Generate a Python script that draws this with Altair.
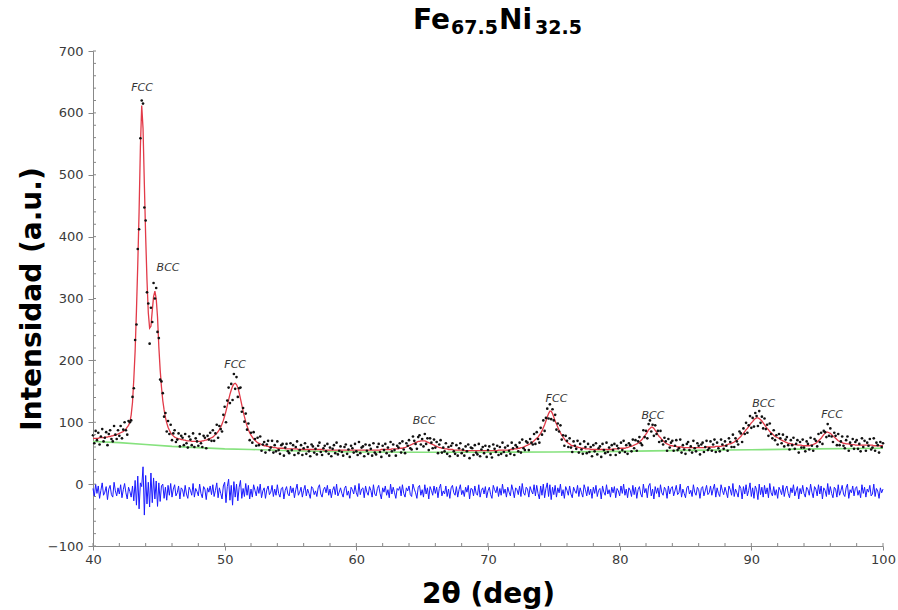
import numpy as np
import pandas as pd
import altair as alt

# ---- scan grid (2theta, deg) ----
X_START = 40.0
X_STEP = 0.1

# ---- calculated (fitted) profile, red line, one value per 0.1 deg ----
CALC = [
    74, 74, 74, 74, 74, 75, 75, 75, 75, 76,            # 40
    76, 76, 77, 77, 78, 78, 79, 79, 80, 81,            # 41
    82, 83, 84, 85, 87, 89, 92, 95, 100, 112,          # 42
    132, 170, 215, 280, 355, 440, 545, 612, 575, 485,  # 43
    400, 330, 277, 252, 255, 280, 303, 312, 300, 270,  # 44
    222, 185, 157, 135, 120, 108, 99, 92, 87, 83,      # 45
    80, 78, 76, 75, 74, 73, 73, 72, 72, 71,            # 46
    71, 70, 70, 70, 70, 69, 69, 69, 69, 69,            # 47
    69, 69, 69, 70, 70, 71, 71, 72, 73, 74,            # 48
    75, 76, 78, 80, 82, 85, 88, 92, 97, 103,           # 49
    110, 118, 127, 136, 145, 152, 158, 162, 163, 161,  # 50
    156, 148, 138, 128, 118, 109, 101, 94, 88, 83,     # 51
    79, 76, 73, 71, 69, 67, 66, 65, 64, 63,            # 52
    62, 62, 61, 61, 60, 60, 60, 59, 59, 59,            # 53
    58, 58, 58, 58, 58, 58, 57, 57, 57, 57,            # 54
    57, 57, 57, 57, 57, 57, 56, 56, 56, 56,            # 55
    56, 56, 56, 56, 56, 56, 56, 56, 56, 56,            # 56
    56, 56, 56, 56, 56, 55, 55, 55, 55, 55,            # 57
    55, 55, 55, 55, 55, 55, 55, 55, 55, 55,            # 58
    55, 55, 55, 55, 55, 55, 55, 55, 55, 55,            # 59
    55, 55, 55, 55, 55, 55, 55, 55, 55, 55,            # 60
    55, 55, 55, 55, 55, 55, 55, 55, 55, 56,            # 61
    56, 56, 56, 56, 56, 56, 56, 57, 57, 57,            # 62
    57, 57, 57, 58, 58, 58, 59, 59, 60, 61,            # 63
    62, 63, 64, 65, 66, 67, 68, 69, 69, 70,            # 64
    70, 70, 70, 69, 68, 67, 66, 65, 64, 63,            # 65
    62, 61, 60, 59, 59, 58, 58, 57, 57, 57,            # 66
    56, 56, 56, 56, 55, 55, 55, 55, 55, 55,            # 67
    55, 54, 54, 54, 54, 54, 54, 54, 54, 54,            # 68
    54, 54, 54, 54, 54, 54, 54, 54, 54, 54,            # 69
    54, 54, 54, 54, 54, 54, 54, 54, 55, 55,            # 70
    55, 55, 55, 55, 55, 55, 55, 56, 56, 56,            # 71
    57, 57, 57, 58, 58, 59, 59, 60, 61, 62,            # 72
    63, 64, 65, 66, 68, 70, 72, 74, 76, 79,            # 73
    82, 86, 91, 96, 102, 108, 114, 118, 118, 114,      # 74
    108, 102, 97, 92, 87, 83, 79, 76, 73, 70,          # 75
    68, 66, 65, 63, 62, 62, 61, 60, 60, 59,            # 76
    59, 58, 58, 58, 57, 57, 57, 57, 56, 56,            # 77
    56, 56, 56, 56, 56, 56, 56, 56, 56, 56,            # 78
    56, 56, 56, 56, 56, 57, 57, 57, 57, 57,            # 79
    58, 58, 58, 58, 58, 59, 59, 60, 61, 61,            # 80
    62, 63, 64, 65, 66, 68, 70, 72, 75, 78,            # 81
    81, 84, 88, 90, 92, 92, 90, 87, 84, 80,            # 82
    77, 75, 72, 70, 68, 66, 65, 64, 63, 62,            # 83
    62, 61, 61, 61, 60, 60, 60, 60, 59, 59,            # 84
    59, 59, 59, 59, 59, 59, 59, 59, 59, 59,            # 85
    59, 59, 59, 59, 59, 59, 60, 60, 60, 60,            # 86
    60, 60, 60, 61, 61, 61, 61, 61, 62, 62,            # 87
    62, 63, 64, 65, 65, 66, 67, 68, 70, 71,            # 88
    73, 75, 77, 80, 82, 85, 88, 90, 93, 96,            # 89
    99, 101, 104, 106, 107, 107, 106, 104, 102, 99,    # 90
    96, 93, 90, 88, 85, 83, 81, 79, 77, 76,            # 91
    75, 74, 72, 71, 70, 69, 68, 67, 66, 66,            # 92
    65, 65, 64, 64, 64, 63, 63, 63, 63, 62,            # 93
    62, 62, 62, 62, 62, 63, 63, 64, 65, 66,            # 94
    68, 70, 72, 74, 77, 80, 82, 84, 84, 83,            # 95
    82, 80, 78, 76, 74, 72, 70, 69, 68, 67,            # 96
    66, 66, 65, 65, 65, 64, 64, 64, 64, 63,            # 97
    63, 63, 63, 63, 63, 63, 63, 63, 63, 63,            # 98
    63, 63, 63, 62, 62, 62, 62, 62, 62, 62,            # 99
    62,                                                # 100
]

# ---- observed minus calculated (the blue difference curve), same grid ----
NOISE = [
    5, -8, 12, -3, 9, -11, 2, 14, -6, -1,          # 40
    8, -13, 4, 10, -5, -9, 15, 1, -7, 6,           # 41
    -4, 11, -10, 3, 13, -2, -12, 7, 0, -9,         # 42
    9, -15, 18, -22, 25, -28, 14, 8, 40, -38,      # 43
    26, -20, 15, -25, 30, -18, 22, -12, 17, -24,   # 44
    14, -16, 9, 12, -11, 7, -14, 10, -6, 13,       # 45
    -9, 4, 11, -7, -2, 9, -12, 6, 3, -8,           # 46
    10, -4, -11, 7, 2, -6, 13, -9, 5, 0,           # 47
    -7, 12, -3, -10, 8, 4, -13, 6, -1, 9,          # 48
    -5, 11, -8, 2, 14, -10, 6, -3, -12, 9,         # 49
    15, -18, 8, 20, -14, 10, -22, 16, -9, 12,      # 50
    -15, 7, 18, -11, 5, -8, 13, -6, 10, -12,       # 51
    4, -9, 11, 2, -7, 8, -3, 12, -10, 1,           # 52
    6, -11, 3, 9, -5, -1, 10, -8, 4, -6,           # 53
    11, -3, -9, 5, 7, -12, 2, 8, -4, -7,           # 54
    9, -2, 6, -10, 3, 12, -6, -1, 7, -9,           # 55
    2, 10, -7, 4, -3, -11, 8, 5, -5, 1,            # 56
    -8, 6, 11, -4, -9, 3, 7, -2, 10, -6,           # 57
    4, -10, 2, 8, -5, 12, -7, -1, 6, -3,           # 58
    -9, 5, 9, -6, 1, -11, 7, 3, -4, 10,            # 59
    -2, -8, 13, -5, 4, 6, -10, 9, -1, -6,          # 60
    8, 2, -9, 11, -4, -7, 5, 10, -3, -12,          # 61
    6, -1, 9, -6, 3, -10, 12, -4, 7, -2,           # 62
    -11, 5, 2, 8, -7, 11, -3, -9, 6, 1,            # 63
    9, -5, -8, 12, 4, -2, -11, 7, 10, -6,          # 64
    3, -9, 11, -4, 6, -12, 8, 2, -6, 9,            # 65
    -3, 7, -10, 5, 12, -7, 1, -4, 9, -8,           # 66
    4, -11, 6, 10, -2, -6, 8, -9, 3, 11,           # 67
    -5, 2, -8, 7, -1, 10, -12, 5, 4, -7,           # 68
    9, -3, -6, 11, -9, 2, 6, -4, 8, -10,           # 69
    1, 7, -5, -11, 10, 3, -2, 8, -8, 5,            # 70
    -6, 12, -3, 4, -9, 7, -1, -7, 11, 2,           # 71
    -10, 6, 3, -5, 9, -8, 13, -2, -6, 7,           # 72
    4, -9, 8, 1, -4, 11, -7, 10, -3, -12,          # 73
    9, -6, 12, -10, 5, 14, -8, 11, -13, 7,         # 74
    -5, 10, -9, 6, -2, 12, -7, 3, -11, 8,          # 75
    2, -6, 9, -4, -10, 7, 1, -3, 10, -8,           # 76
    6, -2, -9, 11, 3, -7, 8, -5, 4, -11,           # 77
    7, -3, 10, -8, 2, 5, -12, 9, -1, -6,           # 78
    11, -4, 3, -9, 7, -2, 8, -10, 5, 1,            # 79
    -7, 9, -3, 12, -6, 4, -10, 6, 2, -8,           # 80
    10, -5, 7, -11, 3, 8, -4, -9, 12, -2,          # 81
    5, -10, 9, 13, -7, 4, -12, 8, -3, 6,           # 82
    -9, 11, -2, -6, 7, 3, -11, 9, -4, 5,           # 83
    8, -7, 1, 10, -5, -2, 12, -9, 4, -3,           # 84
    -10, 6, 9, -4, 2, -8, 11, -1, -6, 7,           # 85
    3, -11, 5, 8, -7, 1, 10, -5, -2, 9,            # 86
    -6, 4, 12, -9, 6, -3, -8, 11, 2, -5,           # 87
    7, -1, -10, 9, 3, -6, 13, -8, 4, -2,           # 88
    -9, 10, 5, -12, 8, -4, 11, -7, 2, 14,          # 89
    -8, 6, -11, 9, 3, -13, 12, -5, 7, -9,          # 90
    10, -4, 6, -10, 13, -2, -7, 8, -6, 3,          # 91
    -11, 7, 2, -5, 10, -8, 4, 9, -3, -10,          # 92
    6, -2, 11, -7, 1, 8, -12, 5, -4, 10,           # 93
    -3, -9, 7, 3, -6, 12, -1, -10, 8, 4,           # 94
    -7, 11, -4, 9, -12, 6, 2, -8, 13, -5,          # 95
    8, -3, -10, 7, 4, -9, 11, -6, 1, 10,           # 96
    -4, -8, 6, 12, -11, 3, -2, 9, -7, 5,           # 97
    8, -6, 2, -10, 11, -3, 7, -9, 4, -1,           # 98
    10, -7, -4, 12, -8, 5, 1, -11, 6, -2,          # 99
    4,                                             # 100
]
DIFF_OFFSET = -12  # the difference curve is drawn shifted below the pattern

# ---- background (green line) ----
BG_X = [40, 42, 44, 46, 48, 50, 52, 55, 60, 65, 70, 75, 80, 85, 90, 95, 100]
BG_Y = [69, 67, 64, 61, 59, 57, 56, 54, 52, 51.5, 51.5, 52, 53, 54.5, 55.5, 57, 58]

# ---- peak labels ----
PEAK_LABELS = ["FCC", "BCC", "FCC", "BCC", "FCC", "BCC", "BCC", "FCC"]
LABEL_X = [43.72, 45.7, 50.8, 65.15, 75.2, 82.53, 90.94, 96.13]
LABEL_Y = [640, 349, 192, 102, 138, 110, 130, 111]

# ---- axes ----
X_TICKS = list(range(40, 101, 10))
Y_TICKS = list(range(-100, 701, 100))
X_MINOR = list(range(40, 101, 2))
Y_MINOR = list(range(-100, 701, 20))

TITLE_PARTS = ["Fe", "67.5", "Ni", "32.5"]

# ------------------------------------------------------------------
x_vals = np.round(X_START + X_STEP * np.arange(len(CALC)), 1)
df = pd.DataFrame({"x": x_vals, "calc": CALC, "noise": NOISE})
bg_df = pd.DataFrame({"x": BG_X, "bg": BG_Y})
lab_df = pd.DataFrame({"lx": LABEL_X, "ly": LABEL_Y, "lab": PEAK_LABELS})

W, H = 790, 495
xs = alt.Scale(domain=[40, 100], nice=False, zero=False)
ys = alt.Scale(domain=[-100, 700], nice=False, zero=False)

x_axis = alt.Axis(
    values=X_TICKS, title="2θ (deg)", grid=False,
    titleFont="DejaVu Sans", titleFontSize=28, titleFontWeight="bold", titleColor="black",
    titleY=56, titleBaseline="alphabetic",
    labelFont="DejaVu Sans", labelFontSize=13, labelColor="#3a3a3a", labelPadding=3,
    labelFlush=False, tickSize=4, tickColor="#888", domainColor="#888",
)
y_axis = alt.Axis(
    values=Y_TICKS, title="Intensidad (a.u.)", grid=False,
    titleFont="DejaVu Sans", titleFontSize=28, titleFontWeight="bold", titleColor="black",
    titleX=-61, titleY=H / 2, titleAngle=270, titleAlign="center", titleBaseline="middle",
    labelFont="DejaVu Sans", labelFontSize=13, labelColor="#3a3a3a", labelPadding=5,
    labelFlush=False, tickSize=5, tickColor="#888", domainColor="#888",
)


def X(field):
    return alt.X(field, scale=xs, axis=x_axis, title="2θ (deg)")


def Y(field):
    return alt.Y(field, scale=ys, axis=y_axis, title="Intensidad (a.u.)")


green = alt.Chart(bg_df).mark_line(color="#86e27e", strokeWidth=1.6).encode(
    x=X("x:Q"), y=Y("bg:Q")
)
red = alt.Chart(df).mark_line(color="#e23a48", strokeWidth=1.3).encode(
    x=X("x:Q"), y=Y("calc:Q")
)
dots = alt.Chart(df).transform_calculate(
    obs="datum.calc + datum.noise"
).mark_circle(size=7, color="#111", opacity=1).encode(
    x=X("x:Q"), y=Y("obs:Q")
)
diff = alt.Chart(df).transform_calculate(
    diff=f"datum.noise + ({DIFF_OFFSET})"
).mark_line(color="#1a1aff", strokeWidth=1).encode(
    x=X("x:Q"), y=Y("diff:Q")
)
labels = alt.Chart(lab_df).mark_text(
    font="DejaVu Sans", fontStyle="italic", fontSize=11, color="#333"
).encode(
    x=X("lx:Q"), y=Y("ly:Q"), text="lab:N",
)
x_minor = alt.Chart(pd.DataFrame({"v": X_MINOR})).mark_rule(color="#888").encode(
    x=X("v:Q"), y=alt.value(H), y2=alt.value(H - 3)
)
y_minor = alt.Chart(pd.DataFrame({"v": Y_MINOR})).mark_rule(color="#888").encode(
    y=Y("v:Q"), x=alt.value(0), x2=alt.value(3)
)

title_layers = []
for part, px, py, fs in zip(TITLE_PARTS, [320, 358, 406, 442], [-22, -17, -22, -17], [28, 19, 28, 19]):
    title_layers.append(
        alt.Chart(pd.DataFrame({"t": [part]})).mark_text(
            font="DejaVu Sans", fontWeight="bold", fontSize=fs, align="left",
            baseline="alphabetic", color="black"
        ).encode(x=alt.value(px), y=alt.value(py), text="t:N")
    )

chart = alt.layer(green, red, dots, diff, labels, x_minor, y_minor, *title_layers).properties(
    width=W, height=H,
    autosize=alt.AutoSizeParams(type="none"),
    padding={"left": 93, "top": 51, "right": 15, "bottom": 64},
    background="white",
).configure_view(stroke=None)

chart.save("out.html", embed_options={"renderer": "svg", "actions": False})
